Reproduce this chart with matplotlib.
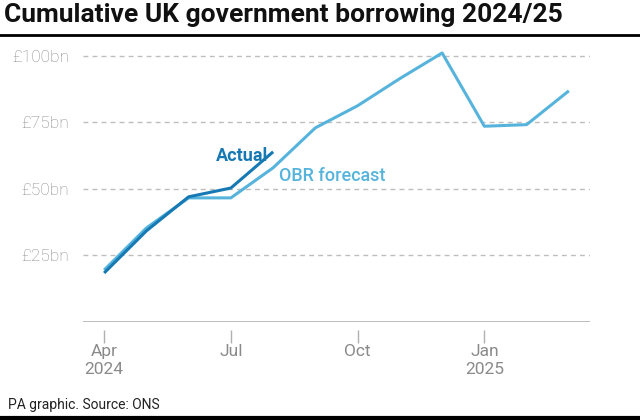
import matplotlib.pyplot as plt

plt.rcParams['font.family'] = ['Roboto', 'DejaVu Sans']

# Monthly cumulative borrowing, £bn (Apr 2024 .. Mar 2025)
months = ['Apr', 'May', 'Jun', 'Jul', 'Aug', 'Sep', 'Oct', 'Nov', 'Dec', 'Jan', 'Feb', 'Mar']
actual = [18.4, 34.2, 47.0, 50.3, 63.9]
obr_forecast = [19.5, 35.3, 46.6, 46.6, 57.9, 72.9, 81.2, 91.4, 101.0, 73.5, 74.1, 86.8]
tick_pos = [0, 3, 6, 9]
tick_labels = ['Apr\n2024', 'Jul', 'Oct', 'Jan\n2025']
y_ticks = [25, 50, 75, 100]
y_labels = ['£25bn', '£50bn', '£75bn', '£100bn']

dark_blue = '#1679b3'
light_blue = '#56b4dc'
grey = '#8a8a8a'

fig = plt.figure(figsize=(6.4, 4.2), dpi=100)
ax = fig.add_axes([83 / 640, 1 - 322 / 420, (590 - 83) / 640, (322 - 45) / 420])

x_obr = list(range(len(obr_forecast)))
x_act = list(range(len(actual)))
ax.plot(x_obr, obr_forecast, color=light_blue, lw=2.2, solid_capstyle='butt', zorder=3)
ax.plot(x_act, actual, color=dark_blue, lw=2.2, solid_capstyle='butt', zorder=4)

ax.set_xlim(-0.5, 11.5)
ax.set_ylim(0, 104)

for v in y_ticks:
    ax.axhline(v, color='#bdbdbd', lw=1, ls=(0, (3.5, 3)), zorder=1)
ax.axhline(0, color='#b0b0b0', lw=1.2, zorder=2)

ax.set_yticks(y_ticks)
ax.set_yticklabels(y_labels)
ax.set_xticks(tick_pos)
ax.set_xticklabels(tick_labels, linespacing=0.92)
ax.tick_params(axis='y', length=0, pad=10, labelsize=12.5, labelcolor=grey)
ax.tick_params(axis='x', length=9, width=1, color='#b0b0b0', pad=1,
               labelsize=12.5, labelcolor=grey)
for lab in ax.get_xticklabels() + ax.get_yticklabels():
    lab.set_fontweight('light')

for s in ['top', 'right', 'left']:
    ax.spines[s].set_visible(False)
ax.spines['bottom'].set_position(('outward', 6))
ax.spines['bottom'].set_visible(False)

ax.text(3.88, 62.5, 'Actual', color=dark_blue, fontsize=13, fontweight='bold',
        ha='right', va='center')
ax.text(4.15, 55.0, 'OBR forecast', color=light_blue, fontsize=13, fontweight='medium',
        ha='left', va='center')

fig.text(0.006, 0.965, 'Cumulative UK government borrowing 2024/25', fontsize=19,
         fontweight='bold', color='#111111', ha='left', va='center')
fig.add_artist(plt.Line2D([0, 1], [1 - 35 / 420] * 2, color='black', lw=2))
fig.add_artist(plt.Line2D([0, 1], [1 - 418 / 420] * 2, color='black', lw=3))
fig.text(0.012, 1 - 405 / 420, 'PA graphic. Source: ONS', fontsize=10,
         color='#222222', ha='left', va='center')

fig.savefig('out.png', dpi=100, facecolor='white')
